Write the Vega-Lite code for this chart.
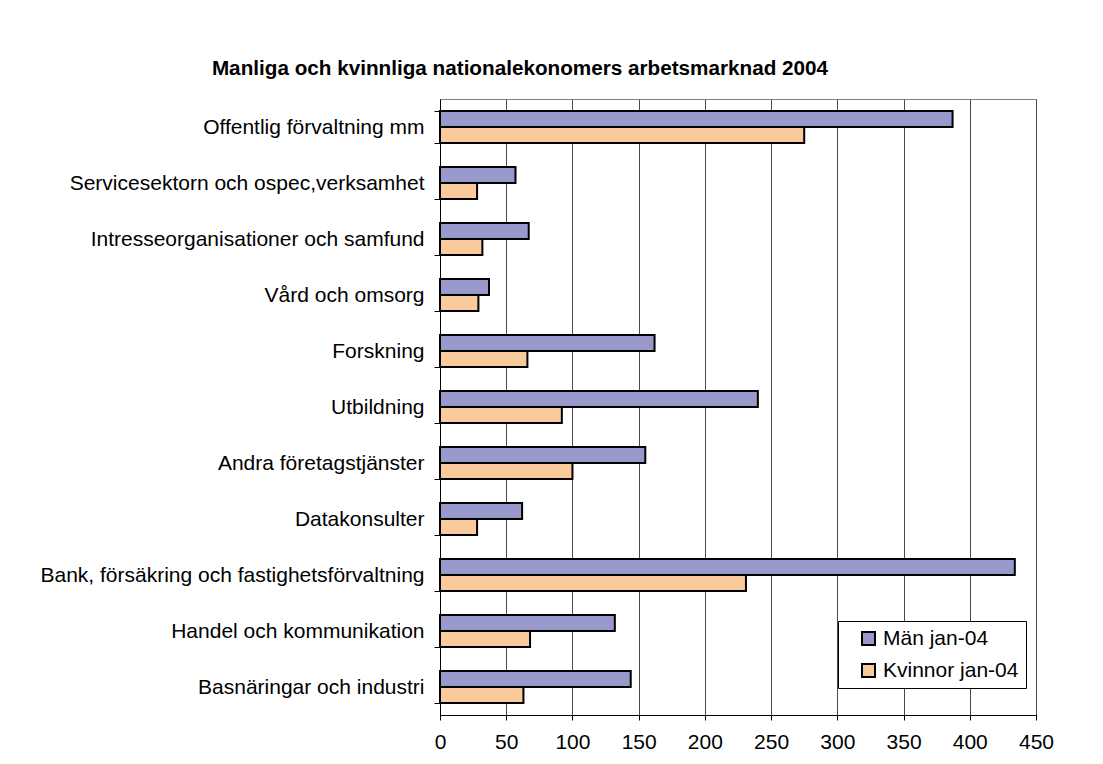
{
  "$schema": "https://vega.github.io/schema/vega-lite/v6.json",
  "autosize": {"type": "none"},
  "padding": {"left": 440, "top": 99, "right": 67, "bottom": 49},
  "width": 596,
  "height": 616,
  "background": "white",
  "title": {
    "text": "Manliga och kvinnliga nationalekonomers arbetsmarknad 2004",
    "font": "Liberation Sans",
    "fontSize": 20.7,
    "fontWeight": "bold",
    "color": "black",
    "anchor": "middle",
    "dx": -218,
    "offset": 8
  },
  "data": {
    "values": [
      {"sektor": "Offentlig förvaltning mm", "serie": "Män jan-04", "antal": 387},
      {"sektor": "Offentlig förvaltning mm", "serie": "Kvinnor jan-04", "antal": 275},
      {"sektor": "Servicesektorn och ospec,verksamhet", "serie": "Män jan-04", "antal": 57},
      {"sektor": "Servicesektorn och ospec,verksamhet", "serie": "Kvinnor jan-04", "antal": 28},
      {"sektor": "Intresseorganisationer och samfund", "serie": "Män jan-04", "antal": 67},
      {"sektor": "Intresseorganisationer och samfund", "serie": "Kvinnor jan-04", "antal": 32},
      {"sektor": "Vård och omsorg", "serie": "Män jan-04", "antal": 37},
      {"sektor": "Vård och omsorg", "serie": "Kvinnor jan-04", "antal": 29},
      {"sektor": "Forskning", "serie": "Män jan-04", "antal": 162},
      {"sektor": "Forskning", "serie": "Kvinnor jan-04", "antal": 66},
      {"sektor": "Utbildning", "serie": "Män jan-04", "antal": 240},
      {"sektor": "Utbildning", "serie": "Kvinnor jan-04", "antal": 92},
      {"sektor": "Andra företagstjänster", "serie": "Män jan-04", "antal": 155},
      {"sektor": "Andra företagstjänster", "serie": "Kvinnor jan-04", "antal": 100},
      {"sektor": "Datakonsulter", "serie": "Män jan-04", "antal": 62},
      {"sektor": "Datakonsulter", "serie": "Kvinnor jan-04", "antal": 28},
      {"sektor": "Bank, försäkring och fastighetsförvaltning", "serie": "Män jan-04", "antal": 434},
      {"sektor": "Bank, försäkring och fastighetsförvaltning", "serie": "Kvinnor jan-04", "antal": 231},
      {"sektor": "Handel och kommunikation", "serie": "Män jan-04", "antal": 132},
      {"sektor": "Handel och kommunikation", "serie": "Kvinnor jan-04", "antal": 68},
      {"sektor": "Basnäringar och industri", "serie": "Män jan-04", "antal": 144},
      {"sektor": "Basnäringar och industri", "serie": "Kvinnor jan-04", "antal": 63}
    ]
  },
  "mark": {"type": "bar", "stroke": "black", "strokeWidth": 2},
  "encoding": {
    "y": {
      "field": "sektor",
      "type": "nominal",
      "sort": null,
      "scale": {"paddingInner": 0.43, "paddingOuter": 0.215},
      "axis": {
        "title": null,
        "tickBand": "extent",
        "domainColor": "black",
        "tickColor": "black",
        "tickSize": 6,
        "labelFont": "Liberation Sans",
        "labelFontSize": 21,
        "labelColor": "black",
        "labelPadding": 10,
        "labelLimit": 500
      }
    },
    "yOffset": {
      "field": "serie",
      "type": "nominal",
      "sort": ["Män jan-04", "Kvinnor jan-04"]
    },
    "x": {
      "field": "antal",
      "type": "quantitative",
      "scale": {"domain": [0, 450], "nice": false},
      "axis": {
        "title": null,
        "values": [0, 50, 100, 150, 200, 250, 300, 350, 400, 450],
        "grid": true,
        "gridColor": "#4a4a4a",
        "gridOpacity": 1,
        "domainColor": "black",
        "tickColor": "black",
        "tickSize": 5,
        "labelFlush": false,
        "labelFont": "Liberation Sans",
        "labelFontSize": 21,
        "labelColor": "black",
        "labelPadding": 11
      }
    },
    "color": {
      "field": "serie",
      "type": "nominal",
      "sort": ["Män jan-04", "Kvinnor jan-04"],
      "scale": {"domain": ["Män jan-04", "Kvinnor jan-04"], "range": ["#9898CA", "#F9CA9B"]},
      "legend": {
        "title": null,
        "orient": "none",
        "legendX": 398,
        "legendY": 522,
        "fillColor": "white",
        "strokeColor": "black",
        "padding": 7,
        "symbolOffset": 13,
        "symbolType": "square",
        "symbolSize": 169,
        "symbolStrokeColor": "black",
        "symbolStrokeWidth": 2,
        "symbolOpacity": 1,
        "labelFont": "Liberation Sans",
        "labelFontSize": 21,
        "labelColor": "black",
        "labelLimit": 400,
        "rowPadding": 10,
        "labelOffset": 4,
        "labelExpr": "datum.label + '\\u2002\\u2002'"
      }
    }
  },
  "config": {
    "view": {"stroke": "#808080", "strokeWidth": 1}
  }
}
